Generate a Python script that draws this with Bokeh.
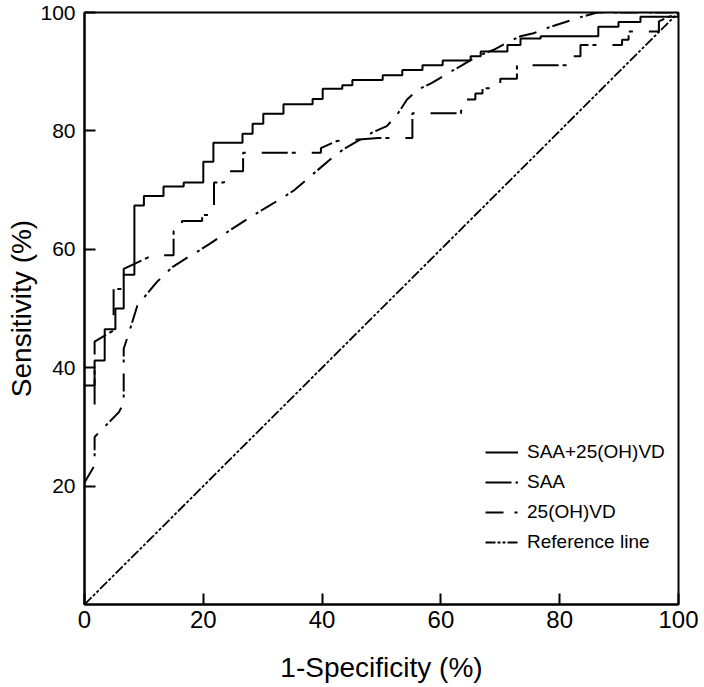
from bokeh.plotting import figure
from bokeh.models import Range1d, FixedTicker, Legend, LegendItem
from bokeh.embed import file_html
from bokeh.resources import INLINE

# ---- data ----
# SAA+25(OH)VD : step ROC curve (vertices where each vertical step ends)
combo_fpr = [0, 1.7, 3.4, 5.2, 6.6, 8.4, 10.0, 13.3, 16.7, 20.0, 21.7, 26.6, 28.3, 30.1,
             33.5, 38.4, 40.1, 43.4, 45.1, 50.2, 53.5, 56.9, 60.3, 65.0, 66.7, 71.2,
             73.4, 76.8, 86.5, 89.9, 93.6, 100]
combo_tpr = [37.0, 41.2, 46.5, 50.0, 55.7, 67.4, 69.0, 70.6, 71.3, 74.8, 78.0, 79.5, 81.2, 82.9,
             84.5, 85.4, 87.1, 87.7, 88.6, 89.4, 90.3, 91.1, 91.9, 92.6, 93.4, 94.5,
             95.6, 96.0, 97.6, 98.4, 99.3, 100]

# SAA
saa_fpr = [1.7, 1.7, 4.9, 4.9, 6.6, 6.6, 11.5, 15.0, 15.0, 16.4, 16.4, 19.8, 19.8, 21.8,
           21.8, 23.5, 23.5, 26.7, 26.7, 39.8, 39.8, 42.5, 49.5, 55.2, 55.2, 63.4, 63.4,
           65.8, 65.8, 67.0, 67.0, 68.6, 68.6, 70.0, 70.0, 72.8, 72.8, 81.8, 81.8, 83.5,
           83.5, 90.5, 90.5, 91.6, 91.6, 96.7, 96.7, 100]
saa_tpr = [33.8, 44.4, 46.3, 53.3, 53.3, 56.7, 59.0, 59.0, 63.1, 63.1, 64.8, 64.8, 65.8, 65.8,
           71.3, 71.3, 73.2, 73.2, 76.3, 76.3, 77.1, 78.3, 78.8, 78.8, 83.0, 83.0, 85.3,
           85.3, 86.3, 86.3, 87.2, 87.2, 88.1, 88.1, 88.8, 88.8, 91.1, 91.1, 92.6, 92.6,
           94.5, 94.5, 95.4, 95.4, 96.8, 96.8, 98.5, 100]

# 25(OH)VD
vd_fpr = [0, 1.7, 1.7, 5.8, 6.6, 6.6, 7.7, 8.9, 12.2, 14.8, 17.3, 19.0, 21.2, 23.4, 25.7,
          28.2, 30.5, 33.0, 35.2, 37.2, 39.4, 41.4, 43.6, 46.5, 48.4, 50.9, 52.6, 54.3,
          56.2, 58.5, 61.1, 63.6, 66.1, 68.9, 70.9, 73.4, 75.6, 78.5, 81.0, 83.8, 86.3, 100]
vd_tpr = [20.6, 23.5, 28.3, 32.5, 34.0, 43.2, 46.6, 50.5, 54.5, 57.0, 58.6, 59.6, 61.0, 62.5,
          64.0, 65.6, 67.0, 68.5, 69.9, 71.6, 73.5, 75.2, 76.9, 78.6, 79.7, 80.8, 82.7, 85.3,
          87.0, 88.1, 89.7, 91.1, 92.6, 93.7, 94.8, 96.0, 96.5, 97.6, 98.4, 99.3, 100, 100]

# Reference line
ref_x = [0, 100]
ref_y = [0, 100]

x_ticks = [0, 20, 40, 60, 80, 100]
y_ticks = [20, 40, 60, 80, 100]
series_labels = ["SAA+25(OH)VD", "SAA", "25(OH)VD", "Reference line"]
x_title = "1-Specificity (%)"
y_title = "Sensitivity (%)"

FONT = "Liberation Sans"

p = figure(width=704, height=687, x_range=Range1d(0, 100), y_range=Range1d(0, 100),
           output_backend="svg", toolbar_location=None,
           min_border_left=84, min_border_right=26, min_border_top=12, min_border_bottom=83)

p.grid.visible = False
p.outline_line_color = "black"
p.outline_line_width = 2
p.background_fill_color = "white"
p.border_fill_color = "white"

r1 = p.step(combo_fpr, combo_tpr, mode="after", line_color="black", line_width=2)
r2 = p.line(saa_fpr, saa_tpr, line_color="black", line_width=2, line_dash="26 4 4 16")
r3 = p.line(vd_fpr, vd_tpr, line_color="black", line_width=2, line_dash="18 11 3 3")
r4 = p.line(ref_x, ref_y, line_color="black", line_width=1.8, line_dash="10 2 3 2 3 2")

for ax, ticks in ((p.xaxis[0], x_ticks), (p.yaxis[0], y_ticks)):
    ax.ticker = FixedTicker(ticks=ticks)
    ax.minor_tick_line_color = None
    ax.major_tick_in = 11
    ax.major_tick_out = 0
    ax.major_tick_line_width = 2
    ax.major_tick_line_color = "black"
    ax.axis_line_width = 2
    ax.axis_line_color = "black"
    ax.major_label_text_font = FONT
    ax.major_label_text_color = "black"
    ax.axis_label_text_font = FONT
    ax.axis_label_text_font_style = "normal"
    ax.axis_label_text_color = "black"
    ax.axis_label_text_font_size = "28px"

p.xaxis[0].axis_label = x_title
p.yaxis[0].axis_label = y_title
p.xaxis[0].major_label_text_font_size = "24px"
p.yaxis[0].major_label_text_font_size = "21px"
p.xaxis[0].major_label_standoff = 6
p.yaxis[0].major_label_standoff = 9
p.xaxis[0].axis_label_standoff = 21
p.yaxis[0].axis_label_standoff = 0

legend = Legend(
    items=[LegendItem(label=lab, renderers=[r]) for lab, r in zip(series_labels, [r1, r2, r3, r4])],
    location=(401, 51),
    padding=0, margin=0, spacing=8,
    glyph_width=33, glyph_height=20, label_standoff=9,
    label_text_font=FONT, label_text_font_size="19px", label_text_color="black",
    border_line_alpha=0, background_fill_alpha=0,
)
p.add_layout(legend)

open("out.html", "w").write(file_html(p, INLINE))
